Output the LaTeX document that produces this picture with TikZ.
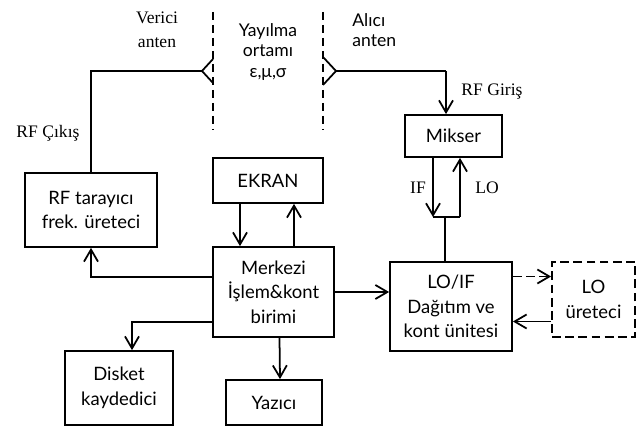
\documentclass[tikz,border=0pt]{standalone}
\usepackage{fontspec}
\setmainfont{Liberation Serif}
\newfontfamily\boxfont{Lato}
\usetikzlibrary{arrows.meta,positioning,calc}
\tikzset{
	block/.style={draw, line width=1pt, align=center, inner sep=2pt, font=\boxfont\fontsize{10.5}{14}\selectfont},
	flow/.style={-{Straight Barb[length=2.4mm,width=2.8mm]}, line width=1pt},
	link/.style={line width=1pt},
	optional/.style={dash pattern=on 5pt off 2.5pt},
	medium/.style={line width=0.8pt, dash pattern=on 1.6mm off 1mm},
	tag/.style={align=center, inner sep=0pt, font=\fontsize{10}{13.5}\selectfont},
	sanstag/.style={align=center, inner sep=0pt, font=\boxfont\fontsize{10}{11.5}\selectfont}
}

\begin{document}
\begin{tikzpicture}[x=0.2mm, y=-0.2mm]
	\useasboundingbox (0,0) rectangle (643,427);
	% blocks
	\node[block, minimum width=26.4mm, minimum height=14.8mm] (rfgen) at (91,210) {RF tarayıcı\\frek. üreteci};
	\node[block, minimum width=22mm, minimum height=9mm] (ekran) at (268,180.5) {EKRAN};
	\node[block, minimum width=24.2mm, minimum height=18mm] (merkezi) at (273.5,292) {Merkezi\\İşlem\&kont\\birimi};
	\node[block, minimum width=21.6mm, minimum height=14.8mm] (disket) at (119,388) {Disket\\kaydedici};
	\node[block, minimum width=19.2mm, minimum height=9mm] (yazici) at (274,402.5) {Yazıcı};
	\node[block, minimum width=19.4mm, minimum height=8.4mm] (mikser) at (453.5,136) {Mikser};
	\node[block, minimum width=24.4mm, minimum height=17.8mm] (loif) at (451,306.5) {LO/IF\\Dağıtım ve\\kont ünitesi};
	\node[block, optional, minimum width=16.6mm, minimum height=15mm] (loure) at (593.5,299.5) {LO\\üreteci};
	% labels
	\node[tag] (verici) at (157,30) {Verici\\anten};
	\node[sanstag] (ortam) at (268,52) {Yayılma\\ortamı\\ε,μ,σ};
	\node[sanstag, anchor=west, align=left] (alici) at (352,30) {Alıcı\\anten};
	\node[tag] (rfout) at (48,133) {RF Çıkış};
	\node[tag] (rfin) at (492,92) {RF Giriş};
	\node[tag] (iflabel) at (418,188) {IF};
	\node[tag] (lolabel) at (487,188) {LO};
	% propagation medium
	\draw[medium] (213,12) -- (213,130);
	\draw[medium] (323,12) -- (323,130);
	% antennas
	\coordinate (txapex) at (202,71);
	\coordinate (rxapex) at (336,71);
	\draw[link] (213,59) -- (txapex) -- (213,83);
	\draw[link] (323,57) -- (rxapex) -- (323,85);
	\coordinate (txcorner) at (rfgen.north |- txapex);
	\coordinate (rxcorner) at (446,71);
	\draw[link] (txapex) -- (txcorner) -- (rfgen.north);
	\draw[link] (rxapex) -- (rxcorner);
	\draw[flow] (rxcorner) -- (rxcorner |- mikser.north);
	% mixer to LO/IF
	\coordinate (ifend) at (433,217);
	\coordinate (loend) at (460,217);
	\coordinate (mixjoin) at (445,217);
	\draw[flow] (ifend |- mikser.south) -- (ifend);
	\draw[link] (ifend) -- (loend);
	\draw[flow] (loend) -- (loend |- mikser.south);
	\draw[link] (mixjoin) -- (mixjoin |- loif.north);
	% screen
	\coordinate (scrdown) at ($(ekran.south)+(-28,0)$);
	\coordinate (scrup) at ($(ekran.south)+(26,0)$);
	\draw[flow] (scrdown) -- (scrdown |- merkezi.north);
	\draw[flow] (scrup |- merkezi.north) -- (scrup);
	% central unit outputs
	\coordinate (tofreq) at ($(merkezi.west)+(0,-15)$);
	\coordinate (todisk) at ($(merkezi.west)+(0,30)$);
	\draw[flow] (tofreq) -| (rfgen.south);
	\draw[flow] (todisk) -| ($(disket.north)+(13,0)$);
	\draw[flow] ($(merkezi.south)+(6,0)$) -- ($(yazici.north)+(6,0)$);
	\draw[flow] (merkezi.east) -- (merkezi.east -| loif.west);
	% LO generator
	\coordinate (tolo) at ($(loif.east)+(0,-30)$);
	\coordinate (fromlo) at ($(loure.west)+(0,22)$);
	\draw[flow, optional] (tolo) -- (tolo -| loure.west);
	\draw[flow] (fromlo) -- (fromlo -| loif.east);
\end{tikzpicture}
\end{document}
